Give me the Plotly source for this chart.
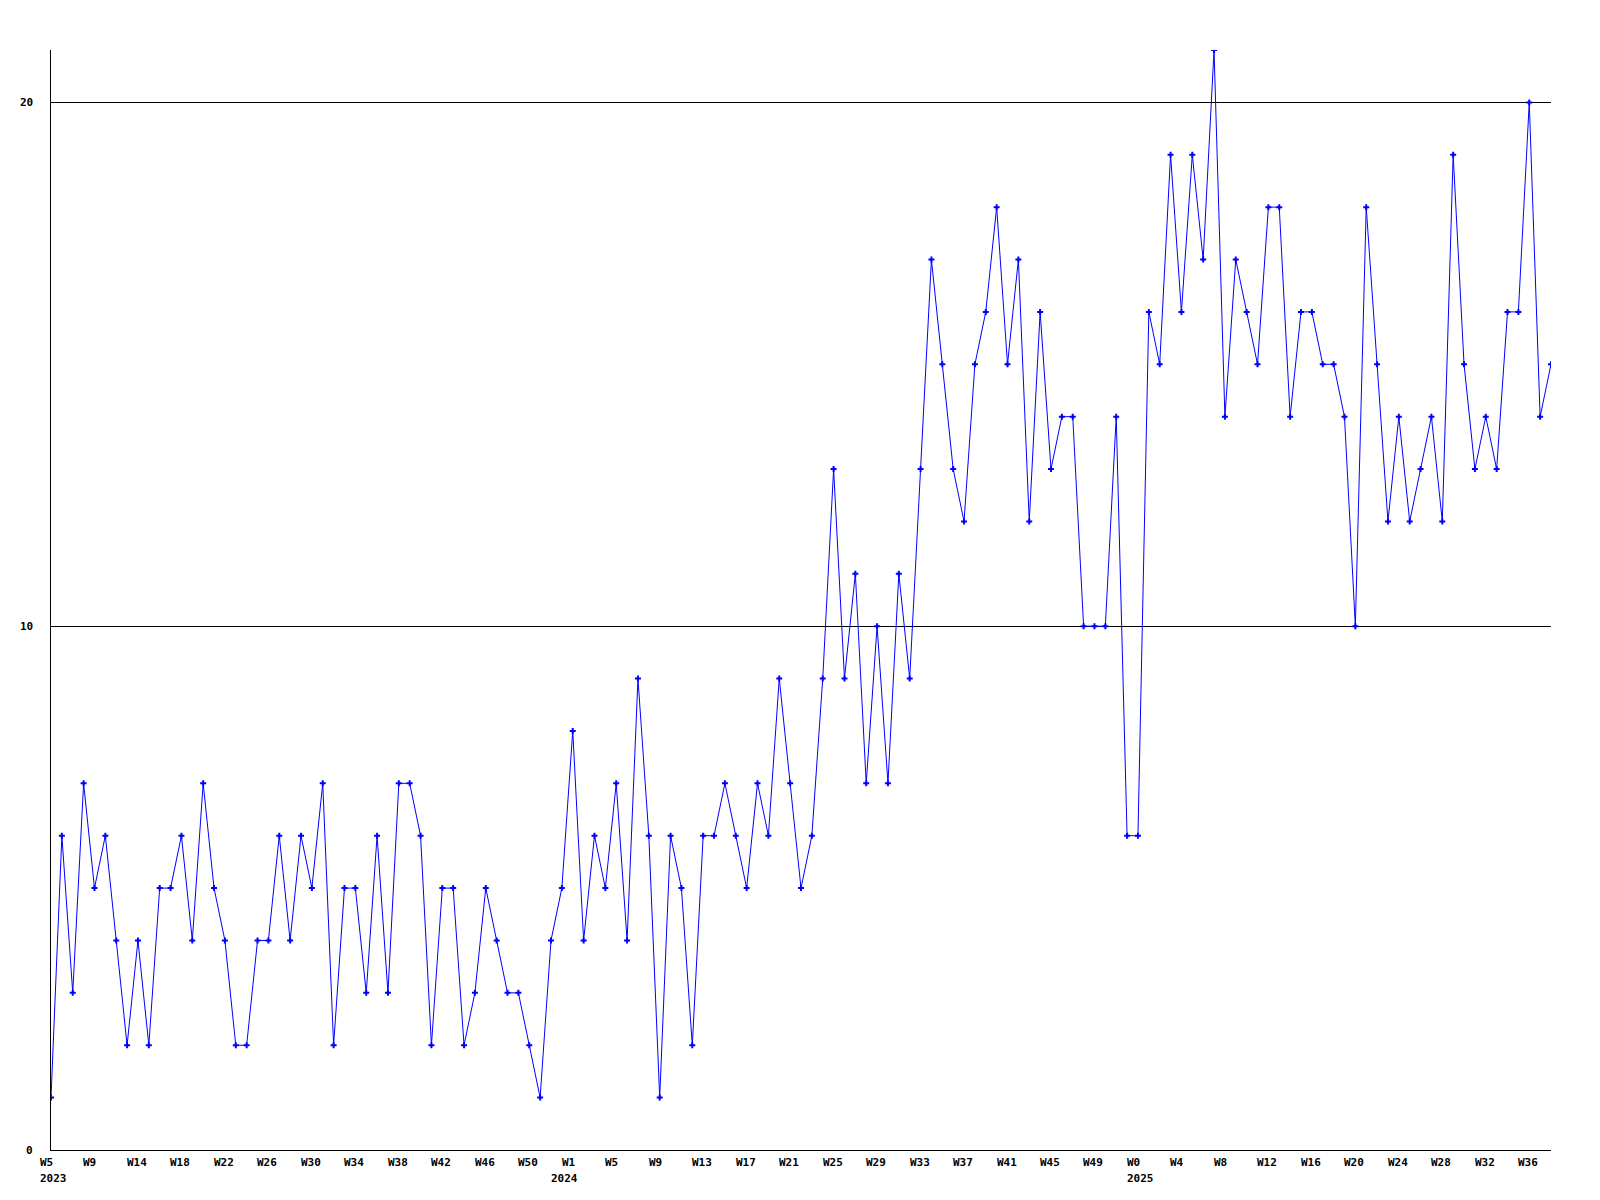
import plotly.graph_objects as go

values = [1, 6, 3, 7, 5, 6, 4, 2, 4, 2,
          5, 5, 6, 4, 7, 5, 4, 2, 2, 4,
          4, 6, 4, 6, 5, 7, 2, 5, 5, 3,
          6, 3, 7, 7, 6, 2, 5, 5, 2, 3,
          5, 4, 3, 3, 2, 1, 4, 5, 8, 4,
          6, 5, 7, 4, 9, 6, 1, 6, 5, 2,
          6, 6, 7, 6, 5, 7, 6, 9, 7, 5,
          6, 9, 13, 9, 11, 7, 10, 7, 11, 9,
          13, 17, 15, 13, 12, 15, 16, 18, 15, 17,
          12, 16, 13, 14, 14, 10, 10, 10, 14, 6,
          6, 16, 15, 19, 16, 19, 17, 21, 14, 17,
          16, 15, 18, 18, 14, 16, 16, 15, 15, 14,
          10, 18, 15, 12, 14, 12, 13, 14, 12, 19,
          15, 13, 14, 13, 16, 16, 20, 14, 15]
x_index = list(range(len(values)))

week_labels = ["W5", "W9", "W14", "W18", "W22", "W26", "W30", "W34", "W38", "W42", "W46", "W50",
               "W1", "W5", "W9", "W13", "W17", "W21", "W25", "W29", "W33", "W37", "W41", "W45", "W49",
               "W0", "W4", "W8", "W12", "W16", "W20", "W24", "W28", "W32", "W36"]
week_positions = list(range(0, 4 * len(week_labels), 4))
year_labels = ["2023", "2024", "2025"]
year_positions = [0, 47, 100]
y_ticks = [0, 10, 20]
y_labels = ["0", "10", "20"]

font = dict(family="DejaVu Sans Mono", size=11, color="black", weight="bold")

fig = go.Figure()
fig.add_trace(go.Scatter(
    x=x_index, y=values, mode="lines+markers",
    line=dict(color="#0000FF", width=1),
    marker=dict(symbol="cross", size=5, color="#0000FF", line=dict(width=0)),
    showlegend=False, hoverinfo="skip",
))

annotations = []
for pos, lab in zip(week_positions, week_labels):
    annotations.append(dict(x=pos, y=0, xref="x", yref="paper", text=lab, showarrow=False,
                            xanchor="left", yanchor="middle", xshift=-13, yshift=-12, font=font))
for pos, lab in zip(year_positions, year_labels):
    annotations.append(dict(x=pos, y=0, xref="x", yref="paper", text=lab, showarrow=False,
                            xanchor="left", yanchor="middle", xshift=-13, yshift=-28, font=font))
for v, lab in zip(y_ticks, y_labels):
    annotations.append(dict(x=0, y=v, xref="paper", yref="y", text=lab, showarrow=False,
                            xanchor="right", yanchor="middle", xshift=-16, font=font))

fig.update_layout(
    width=1592, height=1192,
    margin=dict(l=43, r=49, t=42, b=50),
    paper_bgcolor="white", plot_bgcolor="white",
    annotations=annotations,
    xaxis=dict(range=[0, len(values) - 1], showgrid=False, zeroline=False,
               showticklabels=False, ticks="", showline=True, linecolor="black", linewidth=1),
    yaxis=dict(range=[0, 21], tickvals=y_ticks, showticklabels=False, ticks="",
               showgrid=True, gridcolor="black", gridwidth=1, zeroline=False,
               showline=True, linecolor="black", linewidth=1),
)

fig.write_html("out.html")
